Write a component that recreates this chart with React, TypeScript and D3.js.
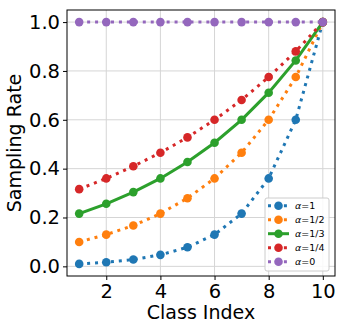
import React, { useEffect, useRef } from "react";
import * as d3 from "d3";

// class indices
const classIndex = [1, 2, 3, 4, 5, 6, 7, 8, 9, 10];

// sampling rates
const alpha1 = [0.01, 0.017, 0.028, 0.047, 0.078, 0.13, 0.216, 0.36, 0.6, 1.0];
const alphaHalf = [0.1, 0.13, 0.167, 0.216, 0.279, 0.36, 0.465, 0.6, 0.775, 1.0];
const alphaThird = [0.216, 0.256, 0.304, 0.36, 0.427, 0.506, 0.6, 0.711, 0.843, 1.0];
const alphaQuarter = [0.316, 0.36, 0.41, 0.465, 0.528, 0.6, 0.681, 0.775, 0.88, 1.0];
const alpha0 = [1, 1, 1, 1, 1, 1, 1, 1, 1, 1];

const seriesLabels = ["1", "1/2", "1/3", "1/4", "0"];
const seriesColors = ["#1f77b4", "#ff7f0e", "#2ca02c", "#d62728", "#9467bd"];
const seriesDotted = [true, true, false, true, true];

const xTicks = [2, 4, 6, 8, 10];
const yTicks = [0, 0.2, 0.4, 0.6, 0.8, 1.0];

const App = () => {
  const ref = useRef<SVGSVGElement>(null);

  useEffect(() => {
    const svg = d3.select(ref.current);
    svg.selectAll("*").remove();

    const width = 345;
    const height = 331;
    const margin = { top: 10, right: 10, bottom: 55, left: 67 };
    const font = "DejaVu Sans, sans-serif";

    svg.attr("width", width).attr("height", height);

    const x = d3.scaleLinear().domain([0.55, 10.45]).range([margin.left, width - margin.right]);
    const y = d3.scaleLinear().domain([-0.0395, 1.0495]).range([height - margin.bottom, margin.top]);

    const values = [alpha1, alphaHalf, alphaThird, alphaQuarter, alpha0];

    // grid
    const grid = svg.append("g");
    xTicks.forEach((t) => {
      grid.append("line")
        .attr("x1", x(t)).attr("x2", x(t))
        .attr("y1", margin.top).attr("y2", height - margin.bottom)
        .attr("stroke", "#d5d5d5").attr("stroke-width", 1);
    });
    yTicks.forEach((t) => {
      grid.append("line")
        .attr("x1", margin.left).attr("x2", width - margin.right)
        .attr("y1", y(t)).attr("y2", y(t))
        .attr("stroke", "#d5d5d5").attr("stroke-width", 1);
    });

    // series
    const line = d3.line<number>().x((d, i) => x(classIndex[i])).y((d) => y(d));
    values.forEach((vals, s) => {
      const g = svg.append("g");
      g.append("path")
        .datum(vals)
        .attr("d", line)
        .attr("fill", "none")
        .attr("stroke", seriesColors[s])
        .attr("stroke-width", 3)
        .attr("stroke-dasharray", seriesDotted[s] ? "3,4.95" : null);
      g.selectAll("circle")
        .data(vals)
        .enter()
        .append("circle")
        .attr("cx", (d, i) => x(classIndex[i]))
        .attr("cy", (d) => y(d))
        .attr("r", 4.3)
        .attr("fill", seriesColors[s]);
    });

    // axes frame
    svg.append("rect")
      .attr("x", margin.left).attr("y", margin.top)
      .attr("width", width - margin.left - margin.right)
      .attr("height", height - margin.top - margin.bottom)
      .attr("fill", "none").attr("stroke", "black").attr("stroke-width", 1);

    const xAxis = svg.append("g")
      .attr("transform", `translate(0,${height - margin.bottom})`)
      .call(d3.axisBottom(x).tickValues(xTicks).tickSize(4).tickPadding(4).tickFormat(d3.format("d")));
    xAxis.select(".domain").remove();
    xAxis.selectAll("text").style("font-size", "19.5px").style("font-family", font).attr("fill", "black");

    const yAxis = svg.append("g")
      .attr("transform", `translate(${margin.left},0)`)
      .call(d3.axisLeft(y).tickValues(yTicks).tickSize(4).tickPadding(3).tickFormat(d3.format(".1f")));
    yAxis.select(".domain").remove();
    yAxis.selectAll("text").style("font-size", "19.5px").style("font-family", font).attr("fill", "black");

    svg.append("text")
      .attr("x", (margin.left + width - margin.right) / 2)
      .attr("y", 319)
      .attr("text-anchor", "middle")
      .style("font-size", "19px")
      .style("font-family", font)
      .text("Class Index");

    svg.append("text")
      .attr("transform", `translate(21,${(margin.top + height - margin.bottom) / 2}) rotate(-90)`)
      .attr("text-anchor", "middle")
      .style("font-size", "19px")
      .style("font-family", font)
      .text("Sampling Rate");

    // legend
    const lx = 265;
    const ly = 198;
    const legend = svg.append("g").attr("transform", `translate(${lx},${ly})`);
    legend.append("rect")
      .attr("width", 64).attr("height", 73).attr("rx", 2)
      .attr("fill", "white").attr("fill-opacity", 0.85)
      .attr("stroke", "#cccccc").attr("stroke-width", 1);
    seriesLabels.forEach((lab, s) => {
      const row = legend.append("g").attr("transform", `translate(3,${7.7 + s * 14})`);
      row.append("line")
        .attr("x1", 0).attr("x2", 21).attr("y1", 0).attr("y2", 0)
        .attr("stroke", seriesColors[s]).attr("stroke-width", 3)
        .attr("stroke-dasharray", seriesDotted[s] ? "3,4.95" : null);
      row.append("circle").attr("cx", 10.5).attr("cy", 0).attr("r", 4.3).attr("fill", seriesColors[s]);
      const t = row.append("text")
        .attr("x", 27).attr("y", 3.5)
        .style("font-size", "9.5px")
        .style("font-family", font);
      t.append("tspan").style("font-style", "italic").text("α");
      t.append("tspan").text("=" + lab);
    });
  }, []);

  return <svg ref={ref} style={{ position: "absolute", left: 0, top: 0 }}></svg>;
};

export default App;
